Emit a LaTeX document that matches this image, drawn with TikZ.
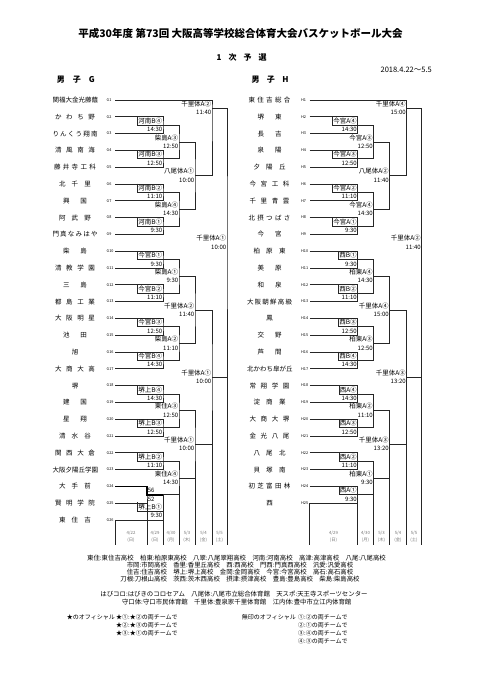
\documentclass[tikz,border=0pt]{standalone}
\usepackage{fontspec}
\setmainfont{Noto Sans CJK JP}
\usetikzlibrary{calc}
\def\sprB#1#2{#1\ifx#2\relax\else\hfil\expandafter\sprB\expandafter#2\fi}
\newcommand\spr[2]{\makebox[#1][s]{\expandafter\sprB#2\relax}}
\tikzset{
  tline/.style={draw=black!85,line width=0.65pt},
  winline/.style={draw=black,line width=1.6pt},
  tname/.style={font=\fontsize{6.5}{7}\selectfont,inner sep=0pt},
  tno/.style={font=\fontsize{3.8}{4}\selectfont,inner sep=0pt,anchor=west},
  mlbl/.style={font=\fontsize{6.5}{7}\selectfont,inner sep=0.6pt,minimum height=8.4pt,anchor=south east},
  mtime/.style={font=\fontsize{6}{7}\selectfont,inner sep=0.6pt,minimum height=8.4pt,anchor=north east},
  score/.style={font=\fontsize{6}{7}\selectfont,inner sep=0.6pt,minimum height=8pt},
  dlbl/.style={font=\fontsize{4.3}{7}\selectfont,text=black!55,align=center,inner sep=0pt},
  head/.style={font=\fontsize{8}{9}\selectfont\bfseries,inner sep=0pt},
  legend/.style={font=\fontsize{6.4}{7}\selectfont,inner sep=0pt},
  offl/.style={font=\fontsize{6}{7}\selectfont,inner sep=0pt,anchor=west},
}
\newcommand\mlab[3]{\node[mlbl] (l#1) at (#1) {#2};\node[mtime] (t#1) at (#1) {#3};}
\newcommand\cellbox[1]{\draw[tline] (l#1.north west) -- (l#1.south west) -- (#1);}

\begin{document}
\begin{tikzpicture}[x=1pt,y=-1pt]
  \useasboundingbox (0,0) rectangle (482,680);
  \node[font=\fontsize{10.5}{12}\selectfont\bfseries,inner sep=0pt] (title) at (240.5,33) {平成30年度 第73回 大阪高等学校総合体育大会バスケットボール大会};
  \node[head] (round) at (241.7,57) {\spr{50pt}{1次予選}};
  \node[font=\fontsize{7.5}{8}\selectfont,inner sep=0pt,anchor=east] (period) at (432,70) {2018.4.22～5.5};
  \node[head] (headG) at (75.8,80) {\spr{38pt}{男子G}};
  \node[head] (headH) at (270,80) {\spr{37pt}{男子H}};

  \foreach \i/\w/\n in {1/45/関福大金光藤蔭,2/40/かわち野,3/45/りんくう翔南,4/40/清風南海,5/42/藤井寺工科,
    6/32/北千里,7/24/興国,8/32/阿武野,9/45/門真なみはや,10/24/柴島,11/40/清教学園,12/24/三島,
    13/40/都島工業,14/40/大阪明星,15/24/池田,16/6.5/旭,17/40/大商大高,18/6.5/堺,19/24/建国,
    20/24/星翔,21/32/清水谷,22/40/関西大倉,23/45/大阪夕陽丘学園,24/32/大手前,25/40/賢明学院,26/32/東住吉}{
    \coordinate (g\i) at (115,{100+16.8*(\i-1)});
    \node[tname] (gn\i) at (75,{100+16.8*(\i-1)}) {\spr{\w pt}{\n}};
    \node[tno] (gl\i) at (106.5,{100+16.8*(\i-1)}) {G\i};
  }
  \coordinate (gm23) at (163,125.2);
  \coordinate (gm45) at (163,158.8);
  \coordinate (gm25) at (179,142);
  \coordinate (gm67) at (163,192.4);
  \coordinate (gm89) at (163,226);
  \coordinate (gm69) at (179,209.2);
  \coordinate (gm29) at (195,175.6);
  \coordinate (gm19) at (212,108);
  \coordinate (gm1011) at (163,259.6);
  \coordinate (gm1213) at (163,293.2);
  \coordinate (gm1013) at (179,276.4);
  \coordinate (gm1415) at (163,326.8);
  \coordinate (gm1617) at (163,360.4);
  \coordinate (gm1417) at (179,343.6);
  \coordinate (gm1017) at (195,310);
  \coordinate (gm1819) at (163,394);
  \coordinate (gm2021) at (163,427.6);
  \coordinate (gm1821) at (179,410.8);
  \coordinate (gm2223) at (163,461.2);
  \coordinate (gm2425) at (147,494.8);
  \coordinate (gm2426) at (163,494.8);
  \coordinate (gm2426b) at (163,511);
  \coordinate (gm2226) at (179,478);
  \coordinate (gm1826) at (195,444.4);
  \coordinate (gm1026) at (212,377.2);
  \coordinate (gmfin) at (227,242.6);

  \draw[tline] (g2) -| (gm23) |- (g3);
  \draw[tline] (g4) -| (gm45) |- (g5);
  \draw[tline] (g6) -| (gm67) |- (g7);
  \draw[tline] (g8) -| (gm89) |- (g9);
  \draw[tline] (gm23) -| (gm25) |- (gm45);
  \draw[tline] (gm67) -| (gm69) |- (gm89);
  \draw[tline] (gm25) -| (gm29) |- (gm69);
  \draw[tline] (g1) -| (gm19) |- (gm29);
  \draw[tline] (g10) -| (gm1011) |- (g11);
  \draw[tline] (g12) -| (gm1213) |- (g13);
  \draw[tline] (g14) -| (gm1415) |- (g15);
  \draw[tline] (g16) -| (gm1617) |- (g17);
  \draw[tline] (gm1011) -| (gm1013) |- (gm1213);
  \draw[tline] (gm1415) -| (gm1417) |- (gm1617);
  \draw[tline] (gm1013) -| (gm1017) |- (gm1417);
  \draw[tline] (g18) -| (gm1819) |- (g19);
  \draw[tline] (g20) -| (gm2021) |- (g21);
  \draw[tline] (g22) -| (gm2223) |- (g23);
  \draw[tline] (g24) -| (gm2425) |- (g25);
  \draw[tline] (gm1819) -| (gm1821) |- (gm2021);
  \draw[tline] (gm2425) -- (gm2426) |- (g26);
  \draw[tline] (gm2223) -| (gm2226) |- (gm2426);
  \draw[tline] (gm1821) -| (gm1826) |- (gm2226);
  \draw[tline] (gm1017) -| (gm1026) |- (gm1826);
  \draw[tline] (gm19) -| (gmfin) |- (gm1026);
  \draw[winline] (g24) -| (gm2425) -- (gm2426);
  \foreach \x/\y in {115/520,147/503.2,163/520,179/494.8,195/478,212/444.4,227/377.2}
    \draw[tline] (\x,\y) -- (\x,545);

  \mlab{gm23}{河南B④}{14:30}  \cellbox{gm23}
  \mlab{gm45}{河南B③}{12:50}  \cellbox{gm45}
  \mlab{gm67}{河南B②}{11:10}  \cellbox{gm67}
  \mlab{gm89}{河南B①}{9:30}   \cellbox{gm89}
  \mlab{gm25}{柴島A③}{12:50}
  \mlab{gm69}{柴島A④}{14:30}
  \mlab{gm29}{八尾体A①}{10:00}
  \mlab{gm19}{千里体A②}{11:40}
  \mlab{gm1011}{今宮B①}{9:30}  \cellbox{gm1011}
  \mlab{gm1213}{今宮B②}{11:10} \cellbox{gm1213}
  \mlab{gm1415}{今宮B③}{12:50} \cellbox{gm1415}
  \mlab{gm1617}{今宮B④}{14:30} \cellbox{gm1617}
  \mlab{gm1013}{柴島A①}{9:30}
  \mlab{gm1417}{柴島A②}{11:10}
  \mlab{gm1017}{千里体A②}{11:40}
  \mlab{gm1819}{堺上B④}{14:30} \cellbox{gm1819}
  \mlab{gm2021}{堺上B③}{12:50} \cellbox{gm2021}
  \mlab{gm2223}{堺上B②}{11:10} \cellbox{gm2223}
  \mlab{gm2426b}{堺上B①}{9:30} \cellbox{gm2426b}
  \mlab{gm1821}{東住A③}{12:50}
  \mlab{gm2226}{東住A④}{14:30}
  \mlab{gm1826}{千里体A①}{10:00}
  \mlab{gm1026}{千里体A①}{10:00}
  \mlab{gmfin}{千里体A①}{10:00}
  \node[score,anchor=south west] (s24) at (gm2425) {56};
  \node[score,anchor=north west] (s25) at (gm2425) {52};

  \node[dlbl] (dg1) at (131,536.5) {4/22\\(日)};
  \foreach \x/\m/\d/\w [count=\k from 2] in {155/4/29/日,171/4/30/月,187/5/3/木,203.5/5/4/金,219.5/5/5/土}
    \node[dlbl] (dg\k) at (\x,536.5) {\m/\d\\(\w)};

  \begin{scope}[xshift=194.5pt]
    \foreach \i/\w/\n in {1/42/東住吉総合,2/24/堺東,3/24/長吉,4/24/泉陽,5/32/夕陽丘,6/40/今宮工科,
      7/40/千里青雲,8/42/北摂つばさ,9/24/今宮,10/32/柏原東,11/24/美原,12/24/和泉,13/45/大阪朝鮮高級,
      14/6.5/鳳,15/24/交野,16/24/芦間,17/45/北かわち皐が丘,18/40/常翔学園,19/32/淀商業,20/40/大商大堺,
      21/40/金光八尾,22/32/八尾北,23/32/貝塚南,24/42/初芝富田林,25/6.5/西}{
      \coordinate (h\i) at (115,{100+16.8*(\i-1)});
      \node[tname] (hn\i) at (75,{100+16.8*(\i-1)}) {\spr{\w pt}{\n}};
      \node[tno] (hl\i) at (106.5,{100+16.8*(\i-1)}) {H\i};
    }
    \coordinate (hm23) at (163,125.2);
    \coordinate (hm45) at (163,158.8);
    \coordinate (hm25) at (179,142);
    \coordinate (hm67) at (163,192.4);
    \coordinate (hm89) at (163,226);
    \coordinate (hm69) at (179,209.2);
    \coordinate (hm29) at (195,175.6);
    \coordinate (hm19) at (212,108);
    \coordinate (hm1011) at (163,259.6);
    \coordinate (hm1213) at (163,293.2);
    \coordinate (hm1013) at (179,276.4);
    \coordinate (hm1415) at (163,326.8);
    \coordinate (hm1617) at (163,360.4);
    \coordinate (hm1417) at (179,343.6);
    \coordinate (hm1017) at (195,310);
    \coordinate (hm1819) at (163,394);
    \coordinate (hm2021) at (163,427.6);
    \coordinate (hm1821) at (179,410.8);
    \coordinate (hm2223) at (163,461.2);
    \coordinate (hm2425) at (163,494.8);
    \coordinate (hm2225) at (179,478);
    \coordinate (hm1825) at (195,444.4);
    \coordinate (hm1025) at (212,377.2);
    \coordinate (hmfin) at (227,242.6);

    \draw[tline] (h2) -| (hm23) |- (h3);
    \draw[tline] (h4) -| (hm45) |- (h5);
    \draw[tline] (h6) -| (hm67) |- (h7);
    \draw[tline] (h8) -| (hm89) |- (h9);
    \draw[tline] (hm23) -| (hm25) |- (hm45);
    \draw[tline] (hm67) -| (hm69) |- (hm89);
    \draw[tline] (hm25) -| (hm29) |- (hm69);
    \draw[tline] (h1) -| (hm19) |- (hm29);
    \draw[tline] (h10) -| (hm1011) |- (h11);
    \draw[tline] (h12) -| (hm1213) |- (h13);
    \draw[tline] (h14) -| (hm1415) |- (h15);
    \draw[tline] (h16) -| (hm1617) |- (h17);
    \draw[tline] (hm1011) -| (hm1013) |- (hm1213);
    \draw[tline] (hm1415) -| (hm1417) |- (hm1617);
    \draw[tline] (hm1013) -| (hm1017) |- (hm1417);
    \draw[tline] (h18) -| (hm1819) |- (h19);
    \draw[tline] (h20) -| (hm2021) |- (h21);
    \draw[tline] (h22) -| (hm2223) |- (h23);
    \draw[tline] (h24) -| (hm2425) |- (h25);
    \draw[tline] (hm1819) -| (hm1821) |- (hm2021);
    \draw[tline] (hm2223) -| (hm2225) |- (hm2425);
    \draw[tline] (hm1821) -| (hm1825) |- (hm2225);
    \draw[tline] (hm1017) -| (hm1025) |- (hm1825);
    \draw[tline] (hm19) -| (hmfin) |- (hm1025);
    \foreach \x/\y in {115/503.2,163/503.2,179/494.8,195/478,212/444.4,227/377.2}
      \draw[tline] (\x,\y) -- (\x,545);

    \mlab{hm23}{今宮A④}{14:30} \cellbox{hm23}
    \mlab{hm45}{今宮A③}{12:50} \cellbox{hm45}
    \mlab{hm67}{今宮A②}{11:10} \cellbox{hm67}
    \mlab{hm89}{今宮A①}{9:30}  \cellbox{hm89}
    \mlab{hm25}{今宮A③}{12:50}
    \mlab{hm69}{今宮A④}{14:30}
    \mlab{hm29}{八尾体A②}{11:40}
    \mlab{hm19}{千里体A④}{15:00}
    \mlab{hm1011}{西B①}{9:30}  \cellbox{hm1011}
    \mlab{hm1213}{西B②}{11:10} \cellbox{hm1213}
    \mlab{hm1415}{西B③}{12:50} \cellbox{hm1415}
    \mlab{hm1617}{西B④}{14:30} \cellbox{hm1617}
    \mlab{hm1013}{柏東A④}{14:30}
    \mlab{hm1417}{柏東A③}{12:50}
    \mlab{hm1017}{千里体A④}{15:00}
    \mlab{hm1819}{西A④}{14:30} \cellbox{hm1819}
    \mlab{hm2021}{西A③}{12:50} \cellbox{hm2021}
    \mlab{hm2223}{西A②}{11:10} \cellbox{hm2223}
    \mlab{hm2425}{西A①}{9:30}  \cellbox{hm2425}
    \mlab{hm1821}{柏東A②}{11:10}
    \mlab{hm2225}{柏東A①}{9:30}
    \mlab{hm1825}{千里体A③}{13:20}
    \mlab{hm1025}{千里体A③}{13:20}
    \mlab{hmfin}{千里体A②}{11:40}

    \foreach \x/\m/\d/\w [count=\k] in {139/4/29/日,171/4/30/月,187/5/3/木,203.5/5/4/金,219.5/5/5/土}
      \node[dlbl] (dh\k) at (\x,536.5) {\m/\d\\(\w)};
  \end{scope}

  \node[legend] (k1) at (236.5,558) {東住:東住吉高校　柏東:柏原東高校　八翠:八尾翠翔高校　河南:河南高校　高津:高津高校　八尾:八尾高校};
  \node[legend] (k2) at (240,565) {市岡:市岡高校　香里:香里丘高校　西:西高校　門西:門真西高校　汎愛:汎愛高校};
  \node[legend] (k3) at (240,572) {住吉:住吉高校　堺上:堺上高校　金岡:金岡高校　今宮:今宮高校　高石:高石高校};
  \node[legend] (k4) at (240,579) {刀根:刀根山高校　茨西:茨木西高校　摂津:摂津高校　豊島:豊島高校　柴島:柴島高校};
  \node[legend] (v1) at (234,594) {はびコロ:はびきのコロセアム　八尾体:八尾市立総合体育館　天スポ:天王寺スポーツセンター};
  \node[legend] (v2) at (236.7,601.7) {守口体:守口市民体育館　千里体:豊泉家千里体育館　江内体:豊中市立江内体育館};

  \node[offl] (o1) at (66.7,617.7) {★のオフィシャル};
  \node[offl] (o2) at (116,617.7) {★①:★②の両チームで};
  \node[offl] (o3) at (116,625.5) {★②:★③の両チームで};
  \node[offl] (o4) at (116,633.3) {★③:★①の両チームで};
  \node[offl] (o5) at (241.7,617.7) {無印のオフィシャル};
  \node[offl] (o6) at (298,617.7) {①:②の両チームで};
  \node[offl] (o7) at (298,625.5) {②:①の両チームで};
  \node[offl] (o8) at (298,633.3) {③:④の両チームで};
  \node[offl] (o9) at (298,641) {④:③の両チームで};
\end{tikzpicture}
\end{document}
